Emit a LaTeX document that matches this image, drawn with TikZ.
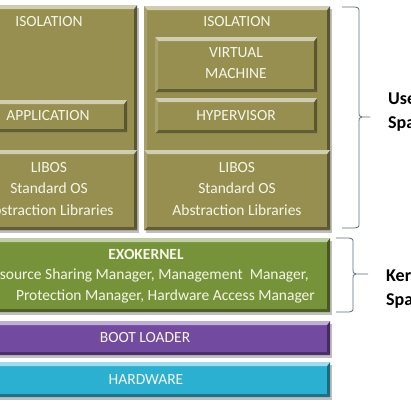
\documentclass[tikz,border=0pt]{standalone}
\usepackage{fontspec}
\setmainfont{Carlito}
\usetikzlibrary{calc}
\definecolor{olivebox}{RGB}{150,143,80}
\definecolor{greenbox}{RGB}{118,147,58}
\definecolor{purplebox}{RGB}{114,74,160}
\definecolor{cyanbox}{RGB}{44,176,210}
\definecolor{boxtext}{RGB}{246,246,232}
\definecolor{bracecol}{RGB}{95,110,125}
\tikzset{
  bevelbox/.style={draw=none, fill=#1, inner sep=0pt, anchor=north west,
    path picture={
      \fill[#1!45!white] (path picture bounding box.north west) -- (path picture bounding box.north east)
        -- ([xshift=-3pt,yshift=-4pt]path picture bounding box.north east) -- ([xshift=3pt,yshift=-4pt]path picture bounding box.north west) -- cycle;
      \fill[#1!60!black] (path picture bounding box.north east) -- (path picture bounding box.south east)
        -- ([xshift=-3pt,yshift=3pt]path picture bounding box.south east) -- ([xshift=-3pt,yshift=-4pt]path picture bounding box.north east) -- cycle;
      \fill[#1!65!black] (path picture bounding box.south west) -- (path picture bounding box.south east)
        -- ([xshift=-3pt,yshift=3pt]path picture bounding box.south east) -- ([xshift=3pt,yshift=3pt]path picture bounding box.south west) -- cycle;
      \fill[#1!85!white] (path picture bounding box.north west) -- (path picture bounding box.south west)
        -- ([xshift=3pt,yshift=3pt]path picture bounding box.south west) -- ([xshift=3pt,yshift=-4pt]path picture bounding box.north west) -- cycle;
    }},
  shadowbox/.style={fill=black!25, draw=none},
  btext/.style={text=boxtext, font=\fontsize{15.5}{21.5}\selectfont, align=center, inner sep=0pt},
  sidelabel/.style={text=black, font=\fontsize{18}{24}\selectfont\bfseries, align=left, anchor=west, inner sep=0pt},
  bracestyle/.style={draw=bracecol, line width=0.8pt}
}
\begin{document}
\begin{tikzpicture}[x=1pt,y=-1pt]
\useasboundingbox (0,0) rectangle (410,410);
\clip (0,0) rectangle (410,410);
\fill[white] (0,0) rectangle (410,410);
% shadows
\fill[shadowbox] (-37,8) rectangle (139,233);
\fill[shadowbox] (146,9) rectangle (332,233);
\fill[shadowbox] (-36,241) rectangle (332,315);
\fill[shadowbox] (-36,324) rectangle (332,358);
\fill[shadowbox] (-36,365) rectangle (332,400);
% left column
\node[bevelbox=olivebox, minimum width=176pt, minimum height=225pt] (lcol) at (-39,5) {};
\node[btext] (liso) at (49,22) {ISOLATION};
\node[bevelbox=olivebox, minimum width=157pt, minimum height=32pt] (app) at (-30,100) {};
\node[btext] (apptext) at (48,116) {APPLICATION};
\node[bevelbox=olivebox, minimum width=176pt, minimum height=80pt] (llib) at (-39,150) {};
\node[btext] (llibtext) at (49,189) {LIBOS\\Standard OS\\Abstraction Libraries};
% right column
\node[bevelbox=olivebox, minimum width=186pt, minimum height=224pt] (rcol) at (144,6) {};
\node[btext] (riso) at (237,22) {ISOLATION};
\node[bevelbox=olivebox, minimum width=162pt, minimum height=55pt] (vm) at (155,37) {};
\node[btext] (vmtext) at (236,63) {VIRTUAL\\MACHINE};
\node[bevelbox=olivebox, minimum width=162pt, minimum height=35pt] (hyp) at (155,98) {};
\node[btext] (hyptext) at (236,116) {HYPERVISOR};
\node[bevelbox=olivebox, minimum width=186pt, minimum height=80pt] (rlib) at (144,150) {};
\node[btext] (rlibtext) at (237,189) {LIBOS\\Standard OS\\Abstraction Libraries};
% exokernel
\node[bevelbox=greenbox, minimum width=368pt, minimum height=74pt] (exo) at (-38,238) {};
\node[btext, font=\fontsize{15.5}{21.5}\selectfont\bfseries] (exotitle) at (146,254) {EXOKERNEL};
\node[btext, anchor=east] (exol1) at (309,275) {Resource Sharing Manager, Management\ \ Manager,};
\node[btext, anchor=east] (exol2) at (315,296) {Protection Manager, Hardware Access Manager};
% boot loader
\node[bevelbox=purplebox, minimum width=368pt, minimum height=34pt] (boot) at (-38,321) {};
\node[btext] (boottext) at (145,338) {BOOT LOADER};
% hardware
\node[bevelbox=cyanbox, minimum width=368pt, minimum height=35pt] (hw) at (-38,362) {};
\node[btext] (hwtext) at (146,380) {HARDWARE};
% braces
\coordinate (ut) at (342,7);
\coordinate (ub) at (342,228);
\coordinate (utip) at (370,117);
\draw[bracestyle] (ut) -- (355,7) .. controls (359,8) .. (359,12) -- (359,113) .. controls (359,116) .. (362,117) -- (utip);
\draw[bracestyle] (ub) -- (355,228) .. controls (359,227) .. (359,223) -- (359,121) .. controls (359,118) .. (362,117);
\coordinate (kt) at (336,238);
\coordinate (kb) at (336,312);
\coordinate (ktip) at (368,274);
\draw[bracestyle] (kt) -- (349,238) .. controls (353,239) .. (353,243) -- (353,270) .. controls (353,273) .. (356,274) -- (ktip);
\draw[bracestyle] (kb) -- (349,312) .. controls (353,311) .. (353,307) -- (353,278) .. controls (353,275) .. (356,274);
% labels
\node[sidelabel] (user) at (388,112) {User\\Space};
\node[sidelabel] (kern) at (386,289) {Kernel\\Space};
\end{tikzpicture}
\end{document}
